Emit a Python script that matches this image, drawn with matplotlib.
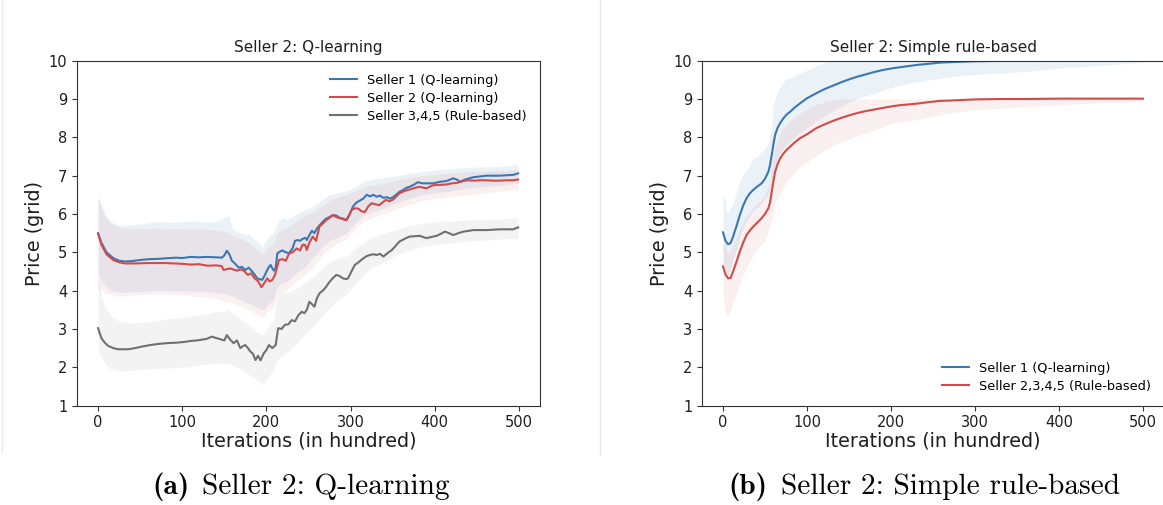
import matplotlib
matplotlib.use("Agg")
import matplotlib.pyplot as plt
from matplotlib.lines import Line2D

# ---------------- Data: panel (a) ----------------
a_blue_x = [0, 4, 10, 18, 25, 32, 40, 50, 60, 72, 85, 92, 100, 110, 120, 130, 140, 147, 150, 153,
            156, 159, 163, 167, 171, 175, 179, 183, 186, 189, 192, 195, 198, 201, 203, 205, 207, 209, 211, 213,
            216, 219, 223, 227, 231, 234, 237, 240, 243, 246, 248, 251, 254, 257, 260, 263, 267, 271, 275, 279,
            283, 287, 291, 295, 299, 303, 307, 311, 315, 319, 323, 327, 331, 335, 339, 343, 347, 351, 355, 358,
            362, 366, 370, 375, 380, 385, 390, 398, 406, 414, 422, 426, 430, 436, 446, 454, 461, 470, 477, 485,
            493, 499]
a_blue_y = [5.50, 5.25, 5.00, 4.85, 4.78, 4.76, 4.77, 4.80, 4.82, 4.83, 4.85, 4.86, 4.85, 4.88, 4.87, 4.88, 4.87, 4.86, 4.92, 5.04,
            4.95, 4.78, 4.70, 4.60, 4.62, 4.54, 4.60, 4.50, 4.42, 4.32, 4.30, 4.28, 4.40, 4.54, 4.62, 4.67, 4.58, 4.52, 4.60, 4.97,
            5.02, 5.05, 5.00, 4.98, 5.10, 5.30, 5.32, 5.30, 5.35, 5.38, 5.32, 5.45, 5.56, 5.50, 5.62, 5.70, 5.80, 5.88, 5.92, 5.97,
            5.96, 5.90, 5.88, 5.84, 6.00, 6.20, 6.30, 6.35, 6.40, 6.50, 6.46, 6.50, 6.45, 6.48, 6.42, 6.44, 6.40, 6.45, 6.52, 6.58,
            6.62, 6.68, 6.71, 6.76, 6.83, 6.80, 6.80, 6.80, 6.84, 6.86, 6.93, 6.90, 6.84, 6.90, 6.96, 6.98, 7.00, 7.00, 7.00, 7.01,
            7.02, 7.06]

a_red_x = [0, 4, 10, 18, 25, 32, 45, 60, 80, 100, 110, 120, 130, 140, 147, 149, 153, 157, 161, 165,
           170, 174, 178, 182, 186, 190, 194, 197, 201, 204, 207, 210, 212, 215, 219, 223, 227, 231, 236, 240,
           243, 246, 248, 251, 255, 259, 263, 267, 271, 275, 279, 283, 287, 291, 295, 298, 301, 305, 309, 313,
           317, 321, 325, 330, 334, 338, 342, 346, 350, 354, 358, 364, 370, 376, 382, 390, 398, 406, 414, 420,
           426, 432, 438, 446, 454, 461, 469, 477, 485, 493, 499]
a_red_y = [5.48, 5.20, 4.95, 4.80, 4.74, 4.71, 4.71, 4.72, 4.72, 4.70, 4.68, 4.69, 4.65, 4.66, 4.64, 4.54, 4.56, 4.58, 4.55, 4.52,
           4.56, 4.50, 4.41, 4.45, 4.32, 4.25, 4.09, 4.18, 4.32, 4.24, 4.28, 4.40, 4.55, 4.80, 4.82, 4.78, 4.97, 5.00, 5.10, 5.05,
           5.20, 5.19, 5.06, 5.25, 5.41, 5.30, 5.67, 5.75, 5.84, 5.90, 5.97, 5.92, 5.89, 5.86, 5.84, 5.95, 6.10, 6.15, 6.14, 6.07,
           6.05, 6.20, 6.28, 6.25, 6.23, 6.30, 6.37, 6.33, 6.37, 6.45, 6.54, 6.60, 6.64, 6.68, 6.71, 6.67, 6.75, 6.76, 6.77, 6.80,
           6.81, 6.85, 6.88, 6.87, 6.88, 6.88, 6.87, 6.87, 6.88, 6.88, 6.90]

a_gray_x = [0, 4, 8, 12, 18, 24, 36, 44, 52, 62, 72, 82, 92, 102, 111, 117, 123, 129, 135, 141,
            147, 150, 153, 157, 161, 165, 169, 172, 175, 178, 181, 184, 187, 190, 193, 197, 200, 203, 207, 211,
            214, 218, 222, 226, 230, 234, 238, 242, 245, 248, 251, 254, 257, 260, 263, 267, 271, 274, 277, 280,
            283, 287, 291, 295, 297, 301, 305, 310, 315, 319, 323, 327, 331, 335, 339, 344, 349, 354, 358, 364,
            370, 376, 382, 386, 390, 396, 402, 407, 412, 417, 422, 428, 434, 440, 446, 454, 461, 469, 477, 485,
            493, 499]
a_gray_y = [3.02, 2.76, 2.64, 2.56, 2.50, 2.47, 2.47, 2.50, 2.54, 2.58, 2.61, 2.63, 2.64, 2.66, 2.69, 2.70, 2.72, 2.74, 2.80, 2.76,
            2.72, 2.70, 2.84, 2.72, 2.63, 2.70, 2.50, 2.55, 2.58, 2.50, 2.41, 2.35, 2.19, 2.30, 2.18, 2.37, 2.45, 2.58, 2.50, 2.58,
            3.02, 3.00, 3.11, 3.12, 3.23, 3.20, 3.36, 3.45, 3.41, 3.50, 3.71, 3.65, 3.58, 3.80, 3.93, 4.00, 4.10, 4.20, 4.28, 4.35,
            4.41, 4.38, 4.32, 4.30, 4.32, 4.50, 4.67, 4.75, 4.84, 4.90, 4.93, 4.95, 4.93, 4.96, 4.89, 4.98, 5.06, 5.18, 5.28, 5.35,
            5.41, 5.42, 5.43, 5.40, 5.37, 5.40, 5.43, 5.48, 5.54, 5.50, 5.45, 5.50, 5.54, 5.56, 5.58, 5.58, 5.58, 5.59, 5.60, 5.60,
            5.60, 5.65]

a_band_x = [0, 3, 8, 15, 25, 40, 55, 70, 85, 100, 115, 130, 140, 150, 155, 160, 170, 180, 190, 196,
            202, 208, 213, 218, 225, 235, 245, 255, 265, 275, 285, 295, 305, 315, 325, 340, 355, 370, 385, 400,
            420, 440, 460, 480, 499]
a_blue_hi = [6.45, 6.30, 6.00, 5.80, 5.70, 5.72, 5.75, 5.80, 5.78, 5.80, 5.82, 5.78, 5.80, 5.90, 5.95, 5.60, 5.50, 5.45, 5.25, 5.15,
             5.40, 5.50, 5.75, 5.90, 5.85, 6.00, 6.10, 6.20, 6.35, 6.50, 6.55, 6.60, 6.70, 6.85, 6.90, 6.95, 7.00, 7.06, 7.10, 7.15,
             7.18, 7.22, 7.23, 7.25, 7.28]
a_blue_lo = [4.50, 4.30, 4.15, 4.00, 3.95, 3.97, 3.98, 4.00, 4.00, 4.00, 3.98, 3.98, 3.95, 3.92, 3.90, 3.85, 3.75, 3.65, 3.55, 3.50,
             3.65, 3.75, 4.10, 4.20, 4.25, 4.45, 4.60, 4.85, 5.10, 5.30, 5.40, 5.50, 5.75, 5.95, 6.05, 6.15, 6.30, 6.40, 6.50, 6.55,
             6.60, 6.68, 6.72, 6.75, 6.80]
a_red_hi = [6.40, 6.20, 5.95, 5.75, 5.65, 5.62, 5.62, 5.63, 5.62, 5.62, 5.60, 5.60, 5.58, 5.55, 5.50, 5.45, 5.35, 5.25, 5.05, 4.95,
            5.15, 5.20, 5.50, 5.60, 5.65, 5.80, 5.95, 6.05, 6.20, 6.35, 6.45, 6.50, 6.60, 6.70, 6.75, 6.80, 6.88, 6.95, 7.00, 7.03,
            7.08, 7.10, 7.12, 7.13, 7.15]
a_red_lo = [4.00, 4.05, 3.95, 3.90, 3.85, 3.88, 3.90, 3.92, 3.90, 3.90, 3.85, 3.82, 3.80, 3.72, 3.70, 3.68, 3.60, 3.50, 3.35, 3.30,
            3.50, 3.55, 3.85, 3.95, 4.05, 4.25, 4.40, 4.60, 4.90, 5.10, 5.25, 5.35, 5.60, 5.80, 5.90, 6.00, 6.15, 6.25, 6.35, 6.40,
            6.45, 6.50, 6.55, 6.60, 6.65]
a_gray_hi = [4.40, 4.00, 3.60, 3.35, 3.20, 3.15, 3.18, 3.22, 3.27, 3.30, 3.35, 3.40, 3.45, 3.45, 3.50, 3.40, 3.25, 3.10, 2.90, 2.85,
             3.05, 3.20, 3.85, 3.95, 3.95, 4.05, 4.20, 4.35, 4.55, 4.75, 4.85, 4.90, 5.10, 5.25, 5.40, 5.50, 5.60, 5.70, 5.75, 5.80,
             5.82, 5.85, 5.85, 5.87, 5.90]
a_gray_lo = [2.50, 2.30, 2.10, 1.95, 1.90, 1.92, 1.95, 1.97, 1.98, 2.00, 2.05, 2.08, 2.10, 2.10, 2.10, 2.05, 1.95, 1.80, 1.65, 1.55,
             1.75, 1.90, 2.20, 2.30, 2.40, 2.60, 2.85, 3.05, 3.30, 3.55, 3.75, 3.90, 4.15, 4.40, 4.60, 4.75, 4.95, 5.05, 5.15, 5.20,
             5.25, 5.30, 5.32, 5.35, 5.37]

# ---------------- Data: panel (b) ----------------
b_x = [0, 3, 6, 9, 12, 16, 20, 24, 28, 32, 36, 41, 46, 50, 54, 56, 58, 60, 62, 65,
       68, 72, 76, 80, 86, 92, 100, 111, 121, 131, 141, 151, 161, 171, 181, 191, 201, 211, 221, 231,
       245, 258, 280, 300, 330, 360, 400, 450, 500]
b_blue_y = [5.52, 5.30, 5.21, 5.24, 5.41, 5.68, 5.97, 6.22, 6.41, 6.54, 6.63, 6.72, 6.80, 6.92, 7.10, 7.28, 7.54, 7.82, 8.06, 8.25,
            8.37, 8.50, 8.60, 8.67, 8.79, 8.89, 9.02, 9.15, 9.26, 9.35, 9.44, 9.52, 9.59, 9.65, 9.71, 9.76, 9.80, 9.83, 9.86, 9.89,
            9.92, 9.95, 9.97, 9.985, 9.995, 10.0, 10.0, 10.0, 10.0]
b_red_y = [4.63, 4.42, 4.32, 4.33, 4.50, 4.75, 5.02, 5.25, 5.45, 5.57, 5.67, 5.78, 5.89, 6.00, 6.15, 6.30, 6.58, 6.85, 7.10, 7.30,
           7.45, 7.58, 7.68, 7.76, 7.88, 7.98, 8.08, 8.24, 8.34, 8.43, 8.51, 8.58, 8.64, 8.69, 8.73, 8.77, 8.81, 8.84, 8.86, 8.88,
           8.92, 8.95, 8.97, 8.99, 9.00, 9.00, 9.01, 9.01, 9.01]

b_band_x = [0, 2, 5, 8, 12, 16, 20, 25, 30, 35, 40, 45, 50, 55, 58, 60, 62, 65, 68, 72,
            76, 80, 90, 100, 110, 120, 130, 140, 150, 165, 180, 200, 220, 240, 260, 280, 300, 330, 360, 400,
            450, 500]
b_blue_hi = [6.50, 6.40, 6.00, 6.10, 6.30, 6.55, 6.85, 7.05, 7.20, 7.42, 7.50, 7.60, 7.70, 7.90, 8.30, 8.84, 9.00, 9.20, 9.30, 9.45,
             9.55, 9.55, 9.65, 9.75, 9.85, 9.95, 10.0, 10.05, 10.1, 10.1, 10.1, 10.1, 10.1, 10.1, 10.1, 10.1, 10.1, 10.1, 10.1, 10.1,
             10.1, 10.1]
b_blue_lo = [4.60, 4.50, 4.40, 4.50, 4.80, 5.10, 5.40, 5.70, 5.90, 6.05, 6.15, 6.25, 6.40, 6.55, 6.80, 7.00, 7.20, 7.45, 7.60, 7.72,
             7.82, 7.90, 8.10, 8.25, 8.40, 8.55, 8.68, 8.80, 8.92, 9.05, 9.15, 9.30, 9.40, 9.48, 9.55, 9.60, 9.64, 9.68, 9.72, 9.80,
             9.88, 9.96]
b_red_hi = [5.50, 5.30, 5.00, 5.00, 5.15, 5.40, 5.60, 5.85, 6.00, 6.15, 6.25, 6.35, 6.50, 6.80, 7.20, 7.50, 7.75, 7.95, 8.10, 8.25,
            8.35, 8.45, 8.60, 8.75, 8.85, 8.92, 8.97, 9.00, 9.00, 9.00, 9.00, 9.00, 9.00, 9.00, 9.00, 9.00, 9.00, 9.00, 9.00, 9.00,
            9.02, 9.02]
b_red_lo = [4.00, 3.50, 3.35, 3.40, 3.70, 3.90, 4.15, 4.45, 4.70, 4.90, 5.05, 5.20, 5.30, 5.60, 5.85, 6.05, 6.30, 6.40, 6.50, 6.70,
            6.85, 6.95, 7.20, 7.35, 7.50, 7.65, 7.78, 7.88, 7.95, 8.08, 8.18, 8.35, 8.43, 8.50, 8.60, 8.66, 8.72, 8.76, 8.80, 8.85,
            8.90, 8.94]

a_labels = ["Seller 1 (Q-learning)", "Seller 2 (Q-learning)", "Seller 3,4,5 (Rule-based)"]
b_labels = ["Seller 1 (Q-learning)", "Seller 2,3,4,5 (Rule-based)"]
titles = ["Seller 2: Q-learning", "Seller 2: Simple rule-based"]
cap_tags = ["(a)", "(b)"]
cap_texts = ["Seller 2: Q-learning", "Seller 2: Simple rule-based"]
yticks = [1, 2, 3, 4, 5, 6, 7, 8, 9, 10]
xticks = [0, 100, 200, 300, 400, 500]

BLUE = "#3a77b3"
RED = "#d14b4b"
GRAY = "#707070"
TXT = "#1e1e1e"

W, H = 1163, 505
fig = plt.figure(figsize=(W / 100, H / 100), dpi=100)
axA = fig.add_axes([77 / W, 1 - 405.6 / H, 463 / W, 344.9 / H])
axB = fig.add_axes([702 / W, 1 - 405.6 / H, 462 / W, 344.9 / H])

# panel (a)
axA.fill_between(a_band_x, a_gray_lo, a_gray_hi, color=GRAY, alpha=0.08, lw=0)
axA.fill_between(a_band_x, a_blue_lo, a_blue_hi, color=BLUE, alpha=0.10, lw=0)
axA.fill_between(a_band_x, a_red_lo, a_red_hi, color=RED, alpha=0.08, lw=0)
axA.plot(a_blue_x, a_blue_y, color=BLUE, lw=1.5, label=a_labels[0])
axA.plot(a_red_x, a_red_y, color=RED, lw=1.5, label=a_labels[1])
axA.plot(a_gray_x, a_gray_y, color=GRAY, lw=1.5, label=a_labels[2])
axA.legend(loc="upper right", frameon=False, fontsize=9.3, handlelength=2.1,
           borderaxespad=0.6, labelspacing=0.4)

# panel (b)
axB.fill_between(b_band_x, b_blue_lo, b_blue_hi, color=BLUE, alpha=0.10, lw=0)
axB.fill_between(b_band_x, b_red_lo, b_red_hi, color=RED, alpha=0.08, lw=0)
axB.plot(b_x, b_blue_y, color=BLUE, lw=1.5, label=b_labels[0])
axB.plot(b_x, b_red_y, color=RED, lw=1.5, label=b_labels[1])
axB.legend(loc="lower right", frameon=False, fontsize=9.3, handlelength=2.1,
           borderaxespad=0.6, labelspacing=0.4)

for ax, t in zip([axA, axB], titles):
    ax.set_xlim(-25, 525)
    ax.set_ylim(1, 10)
    ax.set_yticks(yticks)
    ax.set_xticks(xticks)
    ax.tick_params(labelsize=10.5, color="#333333", labelcolor=TXT)
    for s in ax.spines.values():
        s.set_color("#333333")
    ax.set_title(t, fontsize=11, color=TXT)
    ax.set_xlabel("Iterations (in hundred)", fontsize=13.8, color=TXT, labelpad=1)
    ax.set_ylabel("Price (grid)", fontsize=13.8, color=TXT, labelpad=3)

# captions: bold tag (cmb10) + regular text (cmr10), fitted so that the plain
# part of caption (a) is ~248 px wide as in the reference
renderer = fig.canvas.get_renderer()
probe = fig.text(0, 0, cap_texts[0], fontsize=18, family="cmr10")
w0 = probe.get_window_extent(renderer).width
probe.remove()
cap_size = 18 * 248 / w0
gap = 0.45 * cap_size * 100 / 72  # quad-ish space in px
centers = [301, 924]
for tag, txt, cx in zip(cap_tags, cap_texts, centers):
    t1 = fig.text(0, 0, tag, fontsize=cap_size, family="cmb10")
    t2 = fig.text(0, 0, txt, fontsize=cap_size, family="cmr10")
    w1 = t1.get_window_extent(renderer).width
    w2 = t2.get_window_extent(renderer).width
    x0 = cx - (w1 + gap + w2) / 2
    yb = 1 - 494 / H
    t1.set_position((x0 / W, yb))
    t2.set_position(((x0 + w1 + gap) / W, yb))
    t1.set_va("baseline")
    t2.set_va("baseline")

# screenshot borders
fig.add_artist(Line2D([1.5 / W, 1.5 / W], [1, 1 - 452 / H], transform=fig.transFigure,
                      color="#e8e8e8", lw=1))
fig.add_artist(Line2D([599.5 / W, 599.5 / W], [1, 1 - 455 / H], transform=fig.transFigure,
                      color="#e8e8e8", lw=1))

fig.savefig("out.png", dpi=100)
